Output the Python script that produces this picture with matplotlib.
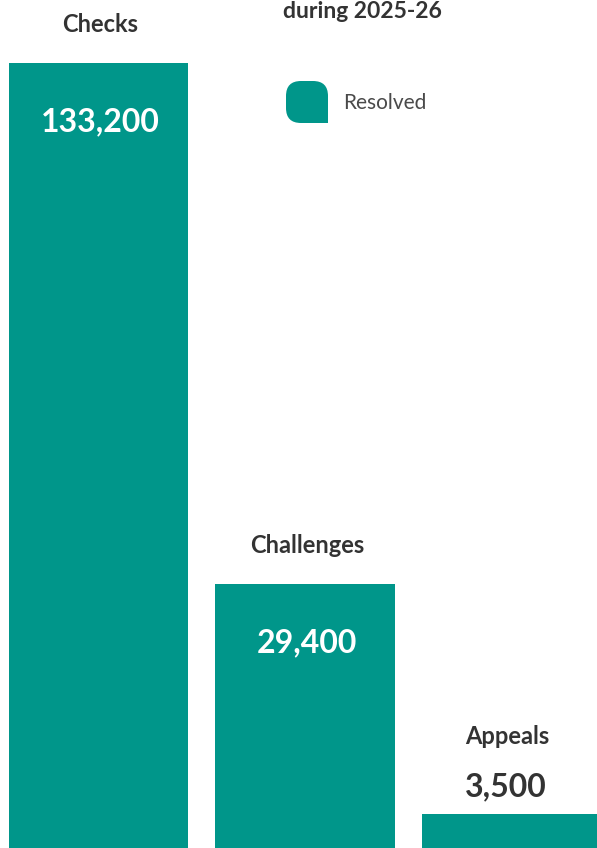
import numpy as np
import matplotlib
matplotlib.use("Agg")
import matplotlib.pyplot as plt
from matplotlib.path import Path
from matplotlib.patches import PathPatch

plt.rcParams['font.family'] = ['Lato', 'DejaVu Sans']

# data
categories = ["Checks", "Challenges", "Appeals"]
resolved = [133200, 29400, 3500]
series_name = "Resolved"
title_tail = "during 2025-26"

teal = "#00968a"
dark = "#333333"

W, H = 597, 848
fig = plt.figure(figsize=(W / 100, H / 100), dpi=100)
ax = fig.add_axes([0, 0, 1, 1])

# designer used a compressed (power) scale for bar heights
p = 0.66
ax.set_yscale("function",
              functions=(lambda v: np.power(np.clip(v, 0, None), p),
                         lambda t: np.power(np.clip(t, 0, None), 1 / p)))
ax.set_ylim(1386, 148900)

x = np.arange(len(categories))
ax.bar(x, resolved, width=0.867, color=teal, zorder=2)
ax.set_xlim(-0.477, 2.414)
ax.axis("off")

for i, (cat, val) in enumerate(zip(categories, resolved)):
    lab = f"{val:,}"
    if val > 10000:
        ax.annotate(lab, (i, val), xytext=(2, -68), textcoords="offset pixels",
                    ha="center", va="baseline", color="white",
                    fontsize=23, fontweight="bold")
        ax.annotate(cat, (i, val), xytext=(2, 31), textcoords="offset pixels",
                    ha="center", va="baseline", color=dark,
                    fontsize=17, fontweight="bold")
    else:
        ax.annotate(lab, (i, val), xytext=(-6, 17), textcoords="offset pixels",
                    ha="center", va="baseline", color=dark,
                    fontsize=23, fontweight="bold")
        ax.annotate(cat, (i, val), xytext=(-4, 70), textcoords="offset pixels",
                    ha="center", va="baseline", color=dark,
                    fontsize=17, fontweight="bold")

# cropped title line
fig.text(362 / W, 1 - 18 / H, title_tail, ha="center", va="baseline",
         color=dark, fontsize=16.5, fontweight="bold")

# legend: leaf-shaped swatch (bottom-right corner square)
x0, x1 = 286 / W, 328 / W
y0, y1 = 1 - 123 / H, 1 - 81 / H
rx, ry = 15 / W, 15 / H
verts = [
    (x1, y0),
    (x0 + rx, y0), (x0, y0), (x0, y0 + ry),
    (x0, y1 - ry), (x0, y1), (x0 + rx, y1),
    (x1 - rx, y1), (x1, y1), (x1, y1 - ry),
    (x1, y0),
]
codes = [Path.MOVETO,
         Path.LINETO, Path.CURVE3, Path.CURVE3,
         Path.LINETO, Path.CURVE3, Path.CURVE3,
         Path.LINETO, Path.CURVE3, Path.CURVE3,
         Path.CLOSEPOLY]
fig.add_artist(PathPatch(Path(verts, codes), facecolor=teal, edgecolor="none",
                         transform=fig.transFigure))
fig.text(343 / W, 1 - 103 / H, series_name, ha="left", va="center",
         color="#4a4a4a", fontsize=15, fontweight="normal")

fig.savefig("out.png", dpi=100)
